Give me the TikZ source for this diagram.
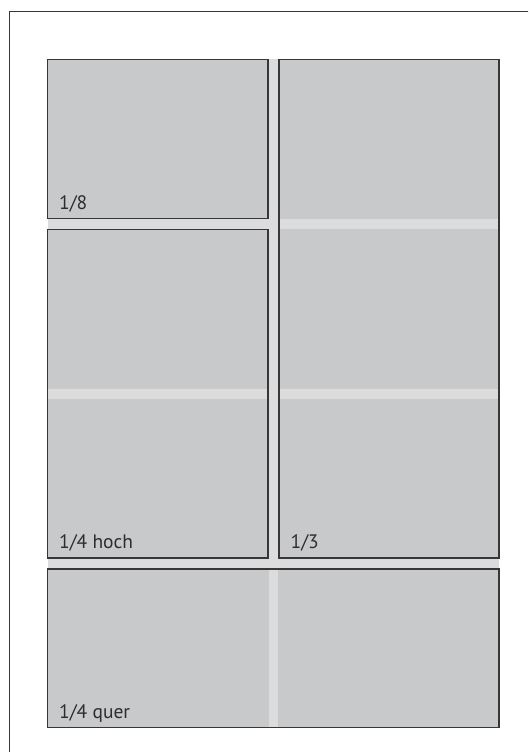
\documentclass[tikz,border=0pt]{standalone}
\usepackage{fontspec}
\setmainfont{PT Sans}
\usetikzlibrary{calc}
\definecolor{boxfill}{RGB}{200,201,203}
\definecolor{gutter}{RGB}{220,220,221}
\definecolor{edge}{RGB}{55,55,57}
\definecolor{txt}{RGB}{45,45,47}
\tikzset{
  panel/.style={draw=edge, line width=1.3pt, fill=boxfill, inner sep=0pt, outer sep=0pt, anchor=north west},
  lbl/.style={anchor=base west, inner sep=0pt, text=txt, font=\fontsize{19.5}{19.5}\selectfont},
  stripe/.style={fill=gutter, draw=none}
}
\begin{document}
\begin{tikzpicture}[x=1pt, y=-1pt]
\useasboundingbox (0,0) rectangle (528,752);
% outer page frame (runs off the right and bottom)
\begin{scope}
\clip (0,0) rectangle (528,752);
\draw[edge, line width=1.3pt] (9.5,800) -- (9.5,11.5) -- (600,11.5);
\end{scope}
% gutter background
\fill[gutter] (47.5,59.5) rectangle (499,727.5);
% panels
\node[panel, minimum width=220.5pt, minimum height=159pt] (b18) at (47.5,59.5) {};
\node[panel, minimum width=220.5pt, minimum height=328.5pt] (b14h) at (47.5,229.5) {};
\node[panel, minimum width=220pt, minimum height=498.5pt] (b13) at (279,59.5) {};
\node[panel, minimum width=451.5pt, minimum height=158.5pt] (b14q) at (47.5,569) {};
% light stripes inside panels
\fill[stripe] ([xshift=0.7pt]b13.west |- 0,219.3) rectangle ([xshift=-0.7pt]b13.east |- 0,228.7);
\fill[stripe] ([xshift=0.7pt]b13.west |- 0,389) rectangle ([xshift=-0.7pt]b13.east |- 0,398.5);
\fill[stripe] ([xshift=0.7pt]b14h.west |- 0,389) rectangle ([xshift=-0.7pt]b14h.east |- 0,398.5);
\fill[stripe] (269,569.7) rectangle (278,726.8);
% labels
\node[lbl] (t18) at ($(b18.south west)+(11.5,-9.5)$) {1/8};
\node[lbl] (t14h) at ($(b14h.south west)+(11.5,-9.5)$) {1/4 hoch};
\node[lbl] (t13) at ($(b13.south west)+(11.5,-9.5)$) {1/3};
\node[lbl] (t14q) at ($(b14q.south west)+(11.5,-9.5)$) {1/4 quer};
\end{tikzpicture}
\end{document}
